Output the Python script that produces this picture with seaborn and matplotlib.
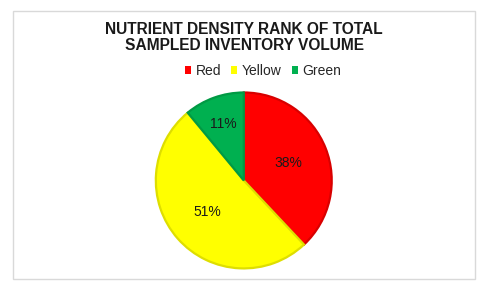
import matplotlib
matplotlib.use('Agg')
import matplotlib.pyplot as plt
import matplotlib.patches as mpatches
import seaborn as sns

sns.set_style('white')
plt.rcParams['font.family'] = ['Liberation Sans', 'DejaVu Sans']

# data
categories = ['Red', 'Yellow', 'Green']
shares = [38, 51, 11]
fill_colors = ['#ff0000', '#ffff00', '#00b050']
edge_colors = ['#d80000', '#dede00', '#009a44']

fig = plt.figure(figsize=(4.9, 2.93), dpi=100)
fig.patch.set_facecolor('white')

# outer chart border
fig.patches.append(mpatches.Rectangle((13 / 490, 1 - 279 / 293), 462 / 490, 268 / 293,
                                      transform=fig.transFigure, fill=False,
                                      edgecolor='#d9d9d9', linewidth=1))

ax = fig.add_axes([0.318, 0.0836, 0.359, 0.601])
wedges, texts, autotexts = ax.pie(shares, colors=fill_colors, startangle=90,
                                  counterclock=False, autopct='%1.0f%%',
                                  pctdistance=0.55,
                                  textprops={'fontsize': 10, 'color': '#1a1a1a'})
for w, ec in zip(wedges, edge_colors):
    w.set_edgecolor(ec)
    w.set_linewidth(1.6)
    w.set_clip_on(False)
# small slice label sits a bit further out, like excel's best fit
x, y = autotexts[2].get_position()
autotexts[2].set_position((x * 1.25, y * 1.25))
ax.set_xlim(-1, 1)
ax.set_ylim(-1, 1)
ax.set_aspect('equal')

fig.text(0.498, 0.872, 'NUTRIENT DENSITY RANK OF TOTAL\nSAMPLED INVENTORY VOLUME',
         ha='center', va='center', fontsize=11.2, fontweight='bold',
         color='#1a1a1a', linespacing=1.07)

handles = [mpatches.Patch(facecolor=c, edgecolor='none') for c in fill_colors]
fig.legend(handles, categories, loc='center', bbox_to_anchor=(0.537, 0.758),
           ncol=3, frameon=False, fontsize=10, handlelength=0.45, handleheight=0.45,
           handletextpad=0.35, columnspacing=0.7, borderpad=0)

plt.savefig('out.png', dpi=100)
plt.close()
